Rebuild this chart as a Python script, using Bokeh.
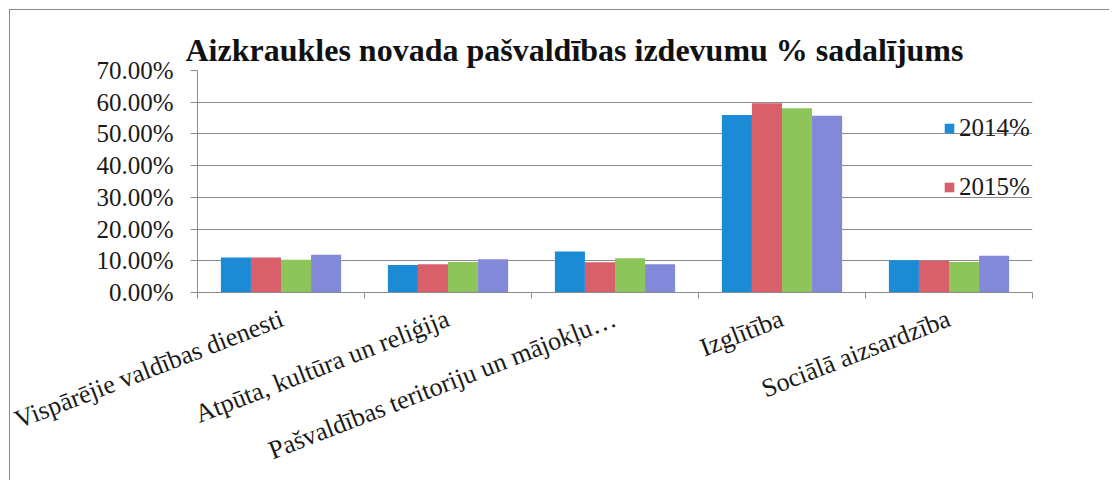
from bokeh.plotting import figure
from bokeh.models import (Range1d, FixedTicker, PrintfTickFormatter, Legend,
                          LegendItem, Title, ColumnDataSource)
from bokeh.transform import dodge
from bokeh.embed import file_html
from bokeh.resources import INLINE

# ---- data ----
categories = ["Vispārējie valdības dienesti", "Atpūta, kultūra un reliģija",
              "Pašvaldības teritoriju un mājokļu…", "Izglītība", "Sociālā aizsardzība"]
series_names = ["2014%", "2015%", "2016%", "2017%"]
s2014 = [11.0, 8.7, 12.9, 56.0, 10.2]
s2015 = [11.0, 8.9, 9.5, 59.7, 10.0]
s2016 = [10.3, 9.6, 10.8, 58.1, 9.6]
s2017 = [11.9, 10.5, 8.9, 55.7, 11.6]
y_ticks = [0, 10, 20, 30, 40, 50, 60, 70]
title_text = "Aizkraukles novada pašvaldības izdevumu % sadalījums"

colors = ["#1C8BD6", "#D95F6B", "#8DC55B", "#8289D9"]
FONT = "Liberation Serif"
GRID = "#8c8c8c"

centers = [i + 0.5 for i in range(len(categories))]
bounds = list(range(len(categories) + 1))

src = ColumnDataSource(dict(x=centers, s2014=s2014, s2015=s2015, s2016=s2016, s2017=s2017))

p = figure(width=1100, height=471, output_backend="svg", toolbar_location=None,
           x_range=Range1d(0, len(categories)), y_range=Range1d(0, 70),
           min_border_left=187, min_border_right=78, min_border_top=60,
           min_border_bottom=189)
p.margin = (9, 0, 0, 9)
p.styles = {"border-left": "1px solid #8a8a8a", "border-top": "1px solid #8a8a8a"}
p.outline_line_color = None
p.background_fill_color = "white"

p.title = Title(text=title_text, align="left", offset=-12, text_font=FONT,
                text_font_size="32px", text_font_style="bold", text_color="#111111",
                standoff=6)

bw = 0.18
offs = [-0.27, -0.09, 0.09, 0.27]
fields = ["s2014", "s2015", "s2016", "s2017"]
renderers = []
for f, o, c in zip(fields, offs, colors):
    r = p.vbar(x=dodge("x", o, range=p.x_range), top=f, bottom=0, width=bw,
               source=src, fill_color=c, line_color=None)
    renderers.append(r)

# y axis
p.yaxis.ticker = FixedTicker(ticks=y_ticks)
p.yaxis.formatter = PrintfTickFormatter(format="%.2f%%")
p.yaxis.axis_line_color = GRID
p.yaxis.major_tick_line_color = GRID
p.yaxis.major_tick_out = 7
p.yaxis.major_tick_in = 0
p.yaxis.minor_tick_line_color = None
p.yaxis.major_label_standoff = 17
p.yaxis.major_label_text_font = FONT
p.yaxis.major_label_text_font_size = "25px"
p.yaxis.major_label_text_color = "#1a1a1a"
p.ygrid.ticker = FixedTicker(ticks=y_ticks)
p.ygrid.grid_line_color = GRID

# x axis
p.xaxis.ticker = FixedTicker(ticks=centers, minor_ticks=bounds)
p.xaxis.major_label_overrides = {c: n for c, n in zip(centers, categories)}
p.xaxis.major_tick_line_color = None
p.xaxis.minor_tick_line_color = GRID
p.xaxis.minor_tick_out = 6
p.xaxis.minor_tick_in = 0
p.xaxis.axis_line_color = GRID
p.xaxis.major_label_orientation = 0.37
p.xaxis.major_label_standoff = 19
p.xaxis.major_label_text_font = FONT
p.xaxis.major_label_text_font_size = "26px"
p.xaxis.major_label_text_color = "#1a1a1a"
p.xgrid.grid_line_color = None

legend = Legend(items=[LegendItem(label=series_names[0], renderers=[renderers[0]]),
                       LegendItem(label=series_names[1], renderers=[renderers[1]])],
                location=(746, 91), orientation="vertical",
                label_text_font=FONT, label_text_font_size="25px",
                label_text_color="#1a1a1a",
                glyph_width=12, glyph_height=12, label_standoff=4,
                spacing=31, padding=0, margin=0,
                border_line_color=None, background_fill_alpha=0)
p.add_layout(legend, "center")

open("out.html", "w").write(file_html(p, INLINE))
